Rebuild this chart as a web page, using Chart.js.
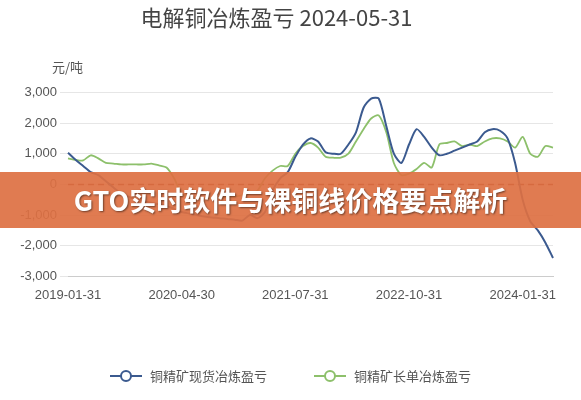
<!DOCTYPE html>
<html><head><meta charset="utf-8">
<script src="https://cdn.jsdelivr.net/npm/chart.js@4/dist/chart.umd.min.js"></script>
<style>
body{margin:0;background:#fff;font-family:"Noto Sans CJK SC","Noto Sans",sans-serif;}
#wrap{position:relative;width:581px;height:400px;}
#banner{position:absolute;left:0;top:172px;width:581px;height:56px;background:rgba(221,112,66,0.92);color:#fff;font-weight:bold;font-size:27px;line-height:56px;text-align:center;text-shadow:1px 1px 2px rgba(0,0,0,0.5);}
#legend{position:absolute;top:366px;left:0;width:581px;text-align:center;font-size:13px;color:#555;}
#legend span{margin:0 22px;display:inline-flex;align-items:center;}
#legend svg{margin-right:8px;}
</style></head>
<body><div id="wrap"><canvas id="c" width="581" height="400"></canvas>
<div id="banner">GTO实时软件与裸铜线价格要点解析</div>
<div id="legend">
<span><svg width="32" height="14"><line x1="0" y1="7" x2="32" y2="7" stroke="#3b5a8f" stroke-width="2"/><circle cx="16" cy="7" r="5" fill="#fff" stroke="#3b5a8f" stroke-width="2"/></svg>铜精矿现货冶炼盈亏</span>
<span><svg width="32" height="14"><line x1="0" y1="7" x2="32" y2="7" stroke="#8dc06b" stroke-width="2"/><circle cx="16" cy="7" r="5" fill="#fff" stroke="#8dc06b" stroke-width="2"/></svg>铜精矿长单冶炼盈亏</span>
</div></div>
<script>
// monthly labels 2019-01-31 .. 2024-05-31
const months = [];
for (let y = 2019; y <= 2024; y++) {
    for (let m = 1; m <= 12; m++) {
        if (y === 2024 && m > 5) break;
        const last = new Date(y, m, 0).getDate();
        months.push(y + '-' + String(m).padStart(2, '0') + '-' + last);
    }
}
const spotProfit = [1030,800,600,400,300,100,-100,-300,-400,-500,-550,-600,-650,-700,-800,-900,-950,-1000,-1050,-1080,-1100,-1130,-1150,-1180,-1000,-1100,-900,-200,200,400,900,1300,1500,1400,1050,1000,1000,1300,1700,2500,2800,2800,1900,1000,700,1300,1800,1550,1200,950,1000,1100,1200,1300,1400,1700,1800,1750,1500,700,-500,-1200,-1500,-1900,-2400];
const longProfit = [850,800,780,950,850,700,680,650,650,650,650,680,620,550,200,-300,-400,-450,-450,-450,-450,-400,-400,-350,-300,-200,200,450,600,600,1000,1250,1350,1200,900,870,870,1000,1400,1800,2150,2250,1700,700,300,350,500,700,550,1300,1350,1400,1250,1300,1250,1400,1500,1500,1400,1200,1550,1000,900,1250,1200];
const yTicks = [3000,2000,1000,0,-1000,-2000,-3000];

const zeroLine = {
    id: 'zeroLine',
    beforeDatasetsDraw(chart) {
        const y = chart.scales.y.getPixelForValue(0);
        const ctx = chart.ctx;
        ctx.save();
        ctx.strokeStyle = '#7a2a1a';
        ctx.setLineDash([6, 4]);
        ctx.lineWidth = 1.5;
        ctx.beginPath();
        ctx.moveTo(chart.chartArea.left, y);
        ctx.lineTo(chart.chartArea.right, y);
        ctx.stroke();
        ctx.restore();
    }
};

new Chart(document.getElementById('c'), {
    type: 'line',
    data: {
        labels: months,
        datasets: [
            {label: '铜精矿现货冶炼盈亏', data: spotProfit, borderColor: '#3b5a8f', borderWidth: 2, pointRadius: 0, tension: 0.25},
            {label: '铜精矿长单冶炼盈亏', data: longProfit, borderColor: '#8dc06b', borderWidth: 1.8, pointRadius: 0, tension: 0.25}
        ]
    },
    options: {
        responsive: false,
        animation: false,
        layout: {padding: {left: 0, right: 28, top: 0, bottom: 94}},
        plugins: {
            legend: {display: false},
            title: {display: true, text: '电解铜冶炼盈亏 2024-05-31', color: '#444', font: {size: 22, weight: 'normal', family: 'Noto Sans CJK SC'}, padding: {top: 4, bottom: 62}}
        },
        scales: {
            x: {
                grid: {display: false},
                border: {color: '#ccc'},
                ticks: {autoSkip: false, maxRotation: 0, color: '#555', font: {size: 13},
                    callback: (v, i) => i % 15 === 0 ? months[i] : ''}
            },
            y: {
                min: -3000, max: 3000,
                afterBuildTicks: s => { s.ticks = yTicks.map(v => ({value: v})); },
                afterFit: s => { s.width = 68; },
                grid: {color: '#e6e6e6'},
                border: {display: false},
                ticks: {color: '#555', font: {size: 13}, callback: v => v.toLocaleString('en-US')}
            }
        }
    },
    plugins: [zeroLine, {
        id: 'unit',
        afterDraw(chart) {
            const ctx = chart.ctx;
            ctx.save();
            ctx.fillStyle = '#555';
            ctx.font = '13px "Noto Sans CJK SC"';
            ctx.fillText('元/吨', 52, 72);
            ctx.restore();
        }
    }]
});
</script></body></html>
